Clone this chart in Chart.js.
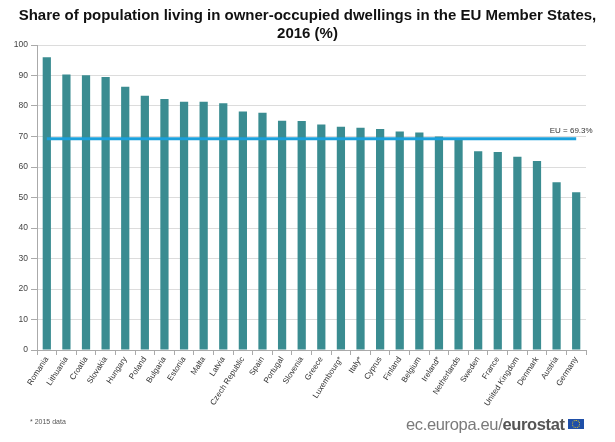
<!DOCTYPE html>
<html>
<head>
<meta charset="utf-8">
<script src="https://cdn.jsdelivr.net/npm/chart.js@4.4.1/dist/chart.umd.min.js"></script>
<style>
html,body{margin:0;padding:0;background:#fff;}
#wrap{position:relative;width:615px;height:442px;}
#c{position:absolute;left:0;top:0;}
#title{position:absolute;left:0;top:6px;width:615px;text-align:center;font:bold 15px/18px "Liberation Sans",Arial,sans-serif;color:#111;}
#note{position:absolute;left:30px;top:418px;font:7px "Liberation Sans",Arial,sans-serif;color:#555;}
#logo{position:absolute;left:406px;top:415px;font:16.5px "Liberation Sans",Arial,sans-serif;color:#7a7a7a;white-space:nowrap;letter-spacing:-0.35px;}
#logo b{color:#555;}
#flag{position:absolute;left:568px;top:419px;width:16px;height:10px;background:#1f4fa8;}
#flag span{position:absolute;left:4px;top:1px;width:6px;height:6px;border:1px dotted #f2d21b;border-radius:50%;}
</style>
</head>
<body>
<div id="wrap">
<canvas id="c" width="615" height="442"></canvas>
<div id="title">Share of population living in owner-occupied dwellings in the EU Member States,<br>2016 (%)</div>
<div id="note">* 2015 data</div>
<div id="logo">ec.europa.eu/<b>eurostat</b></div>
<div id="flag"><span></span></div>
</div>
<script>
const categories = ["Romania","Lithuania","Croatia","Slovakia","Hungary","Poland","Bulgaria","Estonia","Malta","Latvia","Czech Republic","Spain","Portugal","Slovenia","Greece","Luxembourg*","Italy*","Cyprus","Finland","Belgium","Ireland*","Netherlands","Sweden","France","United Kingdom","Denmark","Austria","Germany"];
const shareValues = [96.0,90.3,90.1,89.5,86.3,83.4,82.3,81.4,81.4,80.9,78.2,77.8,75.2,75.1,73.9,73.2,72.9,72.5,71.6,71.3,70.0,69.0,65.2,64.9,63.4,62.0,55.0,51.7];
const euAverage = 69.3;
const euLabel = "EU = 69.3%";
const yTicks = [0,10,20,30,40,50,60,70,80,90,100];

const euLine = categories.map(() => euAverage);

const euLabelPlugin = {
  id: 'euLabel',
  afterDatasetsDraw(chart) {
    const ctx = chart.ctx;
    const x = chart.scales.x.getPixelForValue(categories.length - 1);
    const y = chart.scales.y.getPixelForValue(euAverage);
    ctx.save();
    ctx.font = '8px "Liberation Sans", Arial, sans-serif';
    ctx.fillStyle = '#333';
    ctx.textAlign = 'center';
    ctx.textBaseline = 'bottom';
    ctx.fillText(euLabel, x - 5, y - 4);
    ctx.restore();
  }
};

new Chart(document.getElementById('c'), {
  data: {
    labels: categories,
    datasets: [
      {
        type: 'line',
        data: euLine,
        borderColor: '#1ba1dc',
        borderWidth: 3,
        pointRadius: 0,
        fill: false,
        order: 0
      },
      {
        type: 'bar',
        data: shareValues,
        backgroundColor: '#3a8c91',
        categoryPercentage: 1,
        barPercentage: 0.42,
        order: 1
      }
    ]
  },
  options: {
    responsive: false,
    animation: false,
    layout: { padding: { left: 6, right: 29, top: 45, bottom: 32 } },
    plugins: {
      legend: { display: false },
      tooltip: { enabled: false },
      title: { display: false }
    },
    scales: {
      x: {
        offset: true,
        grid: { display: true, drawOnChartArea: false, offset: true, tickLength: 5, color: '#aaa' },
        border: { color: '#aaa' },
        ticks: {
          autoSkip: false,
          maxRotation: 57,
          minRotation: 57,
          padding: 0,
          font: { family: '"Liberation Sans", Arial, sans-serif', size: 8 },
          color: '#333'
        },
        afterFit(scale) { scale.height = 60; }
      },
      y: {
        min: 0,
        max: 100,
        afterBuildTicks(scale) { scale.ticks = yTicks.map(v => ({ value: v })); },
        grid: { color: '#dcdcdc', tickLength: 6, tickColor: '#aaa' },
        border: { color: '#aaa' },
        ticks: {
          padding: 3,
          font: { family: '"Liberation Sans", Arial, sans-serif', size: 8.5 },
          color: '#444'
        },
        afterFit(scale) { scale.width = 31; }
      }
    }
  },
  plugins: [euLabelPlugin]
});
</script>
</body>
</html>
